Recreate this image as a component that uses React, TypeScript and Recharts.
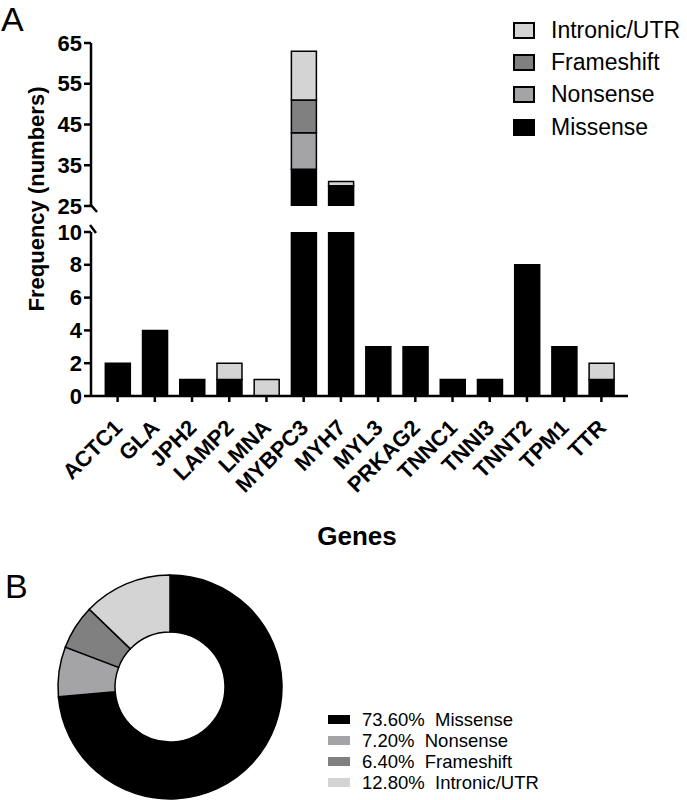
import React from 'react';
import { BarChart, Bar, XAxis, YAxis, PieChart, Pie, Cell } from 'recharts';

const FONT = '"Liberation Sans", Arial, Helvetica, sans-serif';

const genes = ['ACTC1', 'GLA', 'JPH2', 'LAMP2', 'LMNA', 'MYBPC3', 'MYH7', 'MYL3', 'PRKAG2', 'TNNC1', 'TNNI3', 'TNNT2', 'TPM1', 'TTR'];
const missense = [2, 4, 1, 1, 0, 34, 30, 3, 3, 1, 1, 8, 3, 1];
const nonsense = [0, 0, 0, 0, 0, 9, 0, 0, 0, 0, 0, 0, 0, 0];
const frameshift = [0, 0, 0, 0, 0, 8, 0, 0, 0, 0, 0, 0, 0, 0];
const intronic = [0, 0, 0, 1, 1, 12, 1, 0, 0, 0, 0, 0, 0, 1];

const upperTicks = [25, 35, 45, 55, 65];
const lowerTicks = [0, 2, 4, 6, 8, 10];

const seriesNames = ['Missense', 'Nonsense', 'Frameshift', 'Intronic/UTR'];
const seriesColors = ['#000000', '#a4a4a7', '#808080', '#d4d4d4'];

const pieLabels = ['Missense', 'Nonsense', 'Frameshift', 'Intronic/UTR'];
const piePercents = [73.6, 7.2, 6.4, 12.8];

const barData = genes.map((g, i) => ({
  gene: g,
  Missense: missense[i],
  Nonsense: nonsense[i],
  Frameshift: frameshift[i],
  'Intronic/UTR': intronic[i],
}));

const pieData = pieLabels.map((l, i) => ({ name: l, value: piePercents[i] }));

const axisStyle = { stroke: '#000', strokeWidth: 2.5 };

const YTick = (props: any) => {
  const { x, y, payload, breakAt, breakDir } = props;
  const ax = x + 9;
  return (
    <g>
      <text x={x} y={y} textAnchor="end" dominantBaseline="central" fontSize={22} fontWeight="bold" fontFamily={FONT} fill="#000">
        {payload.value}
      </text>
      {payload.value === breakAt && breakDir === 'down' && (
        <line x1={ax - 1} y1={y - 2} x2={ax + 6} y2={y + 6} stroke="#000" strokeWidth={2.5} />
      )}
      {payload.value === breakAt && breakDir === 'up' && (
        <line x1={ax - 1} y1={y - 7} x2={ax + 5} y2={y + 1} stroke="#000" strokeWidth={2.5} />
      )}
    </g>
  );
};

const GeneTick = (props: any) => {
  const { x, y, payload } = props;
  const tx = x + 6;
  const ty = y + 25;
  return (
    <text
      x={tx}
      y={ty}
      textAnchor="end"
      transform={`rotate(-45, ${tx}, ${ty})`}
      fontSize={22}
      fontWeight="bold"
      fontFamily={FONT}
      fill="#000"
    >
      {payload.value}
    </text>
  );
};

const renderBars = () =>
  seriesNames.map((name, i) => (
    <Bar
      key={name}
      dataKey={name}
      stackId="a"
      fill={seriesColors[i]}
      stroke="#000"
      strokeWidth={1.5}
      isAnimationActive={false}
    />
  ));

const legendOrder = [3, 2, 1, 0];

export default function App() {
  return (
    <div style={{ position: 'absolute', left: 0, top: 0, width: 687, height: 800, background: '#fff', fontFamily: FONT }}>
      {/* Upper broken segment */}
      <div style={{ position: 'absolute', left: 0, top: 0 }}>
        <BarChart width={687} height={220} data={barData} margin={{ top: 43, right: 59, bottom: 14, left: 0 }} barCategoryGap="17%">
          <XAxis dataKey="gene" hide padding={{ left: 8, right: 8 }} />
          <YAxis
            domain={[25, 65]}
            ticks={upperTicks}
            allowDataOverflow
            width={91}
            interval={0}
            axisLine={axisStyle}
            tickLine={axisStyle}
            tickSize={7}
            tick={(p: any) => <YTick {...p} breakAt={25} breakDir="down" />}
          />
          {renderBars()}
        </BarChart>
      </div>
      {/* Lower segment */}
      <div style={{ position: 'absolute', left: 0, top: 0 }}>
        <BarChart width={687} height={520} data={barData} margin={{ top: 232, right: 59, bottom: 0, left: 0 }} barCategoryGap="17%">
          <XAxis
            dataKey="gene"
            padding={{ left: 8, right: 8 }}
            height={124}
            interval={0}
            tick={<GeneTick />}
            tickSize={6}
            axisLine={axisStyle}
            tickLine={axisStyle}
          />
          <YAxis
            domain={[0, 10]}
            ticks={lowerTicks}
            allowDataOverflow
            width={91}
            interval={0}
            axisLine={axisStyle}
            tickLine={axisStyle}
            tickSize={7}
            tick={(p: any) => <YTick {...p} breakAt={10} breakDir="up" />}
          />
          {renderBars()}
        </BarChart>
      </div>
      {/* Axis titles and panel letters */}
      <svg width={687} height={800} style={{ position: 'absolute', left: 0, top: 0, pointerEvents: 'none' }}>
        <text x={44} y={199} transform="rotate(-90, 44, 199)" textAnchor="middle" fontSize={22} fontWeight="bold" fontFamily={FONT} fill="#000">
          Frequency (numbers)
        </text>
        <text x={357} y={545} textAnchor="middle" fontSize={26} fontWeight="bold" fontFamily={FONT} fill="#000">
          Genes
        </text>
        <text x={1} y={31} fontSize={34} fontFamily={FONT} fill="#000">A</text>
        <text x={5} y={598} fontSize={34} fontFamily={FONT} fill="#000">B</text>
      </svg>
      {/* Bar legend */}
      <div style={{ position: 'absolute', left: 513, top: 14 }}>
        {legendOrder.map((idx) => (
          <div key={idx} style={{ display: 'flex', alignItems: 'center', height: 32.3 }}>
            <div style={{ width: 18, height: 13, background: seriesColors[idx], border: '2px solid #000' }} />
            <span style={{ marginLeft: 16, fontSize: 23, color: '#000', lineHeight: '23px' }}>{seriesNames[idx]}</span>
          </div>
        ))}
      </div>
      {/* Donut */}
      <div style={{ position: 'absolute', left: 0, top: 530 }}>
        <PieChart width={687} height={270} margin={{ top: 0, right: 0, bottom: 0, left: 0 }}>
          <Pie
            data={pieData}
            dataKey="value"
            nameKey="name"
            cx={170}
            cy={157}
            innerRadius={55}
            outerRadius={112}
            startAngle={90}
            endAngle={-270}
            stroke="#000"
            strokeWidth={1.5}
            isAnimationActive={false}
          >
            {pieData.map((d, i) => (
              <Cell key={d.name} fill={seriesColors[i]} />
            ))}
          </Pie>
        </PieChart>
      </div>
      {/* Donut legend */}
      <div style={{ position: 'absolute', left: 328, top: 709 }}>
        {pieData.map((d, i) => (
          <div key={d.name} style={{ display: 'flex', alignItems: 'center', height: 21 }}>
            <div style={{ width: 22, height: 9, background: seriesColors[i] }} />
            <span style={{ marginLeft: 12, fontSize: 18.5, color: '#000', lineHeight: '19px', whiteSpace: 'pre' }}>
              {d.value.toFixed(2) + '%  ' + d.name}
            </span>
          </div>
        ))}
      </div>
    </div>
  );
}
